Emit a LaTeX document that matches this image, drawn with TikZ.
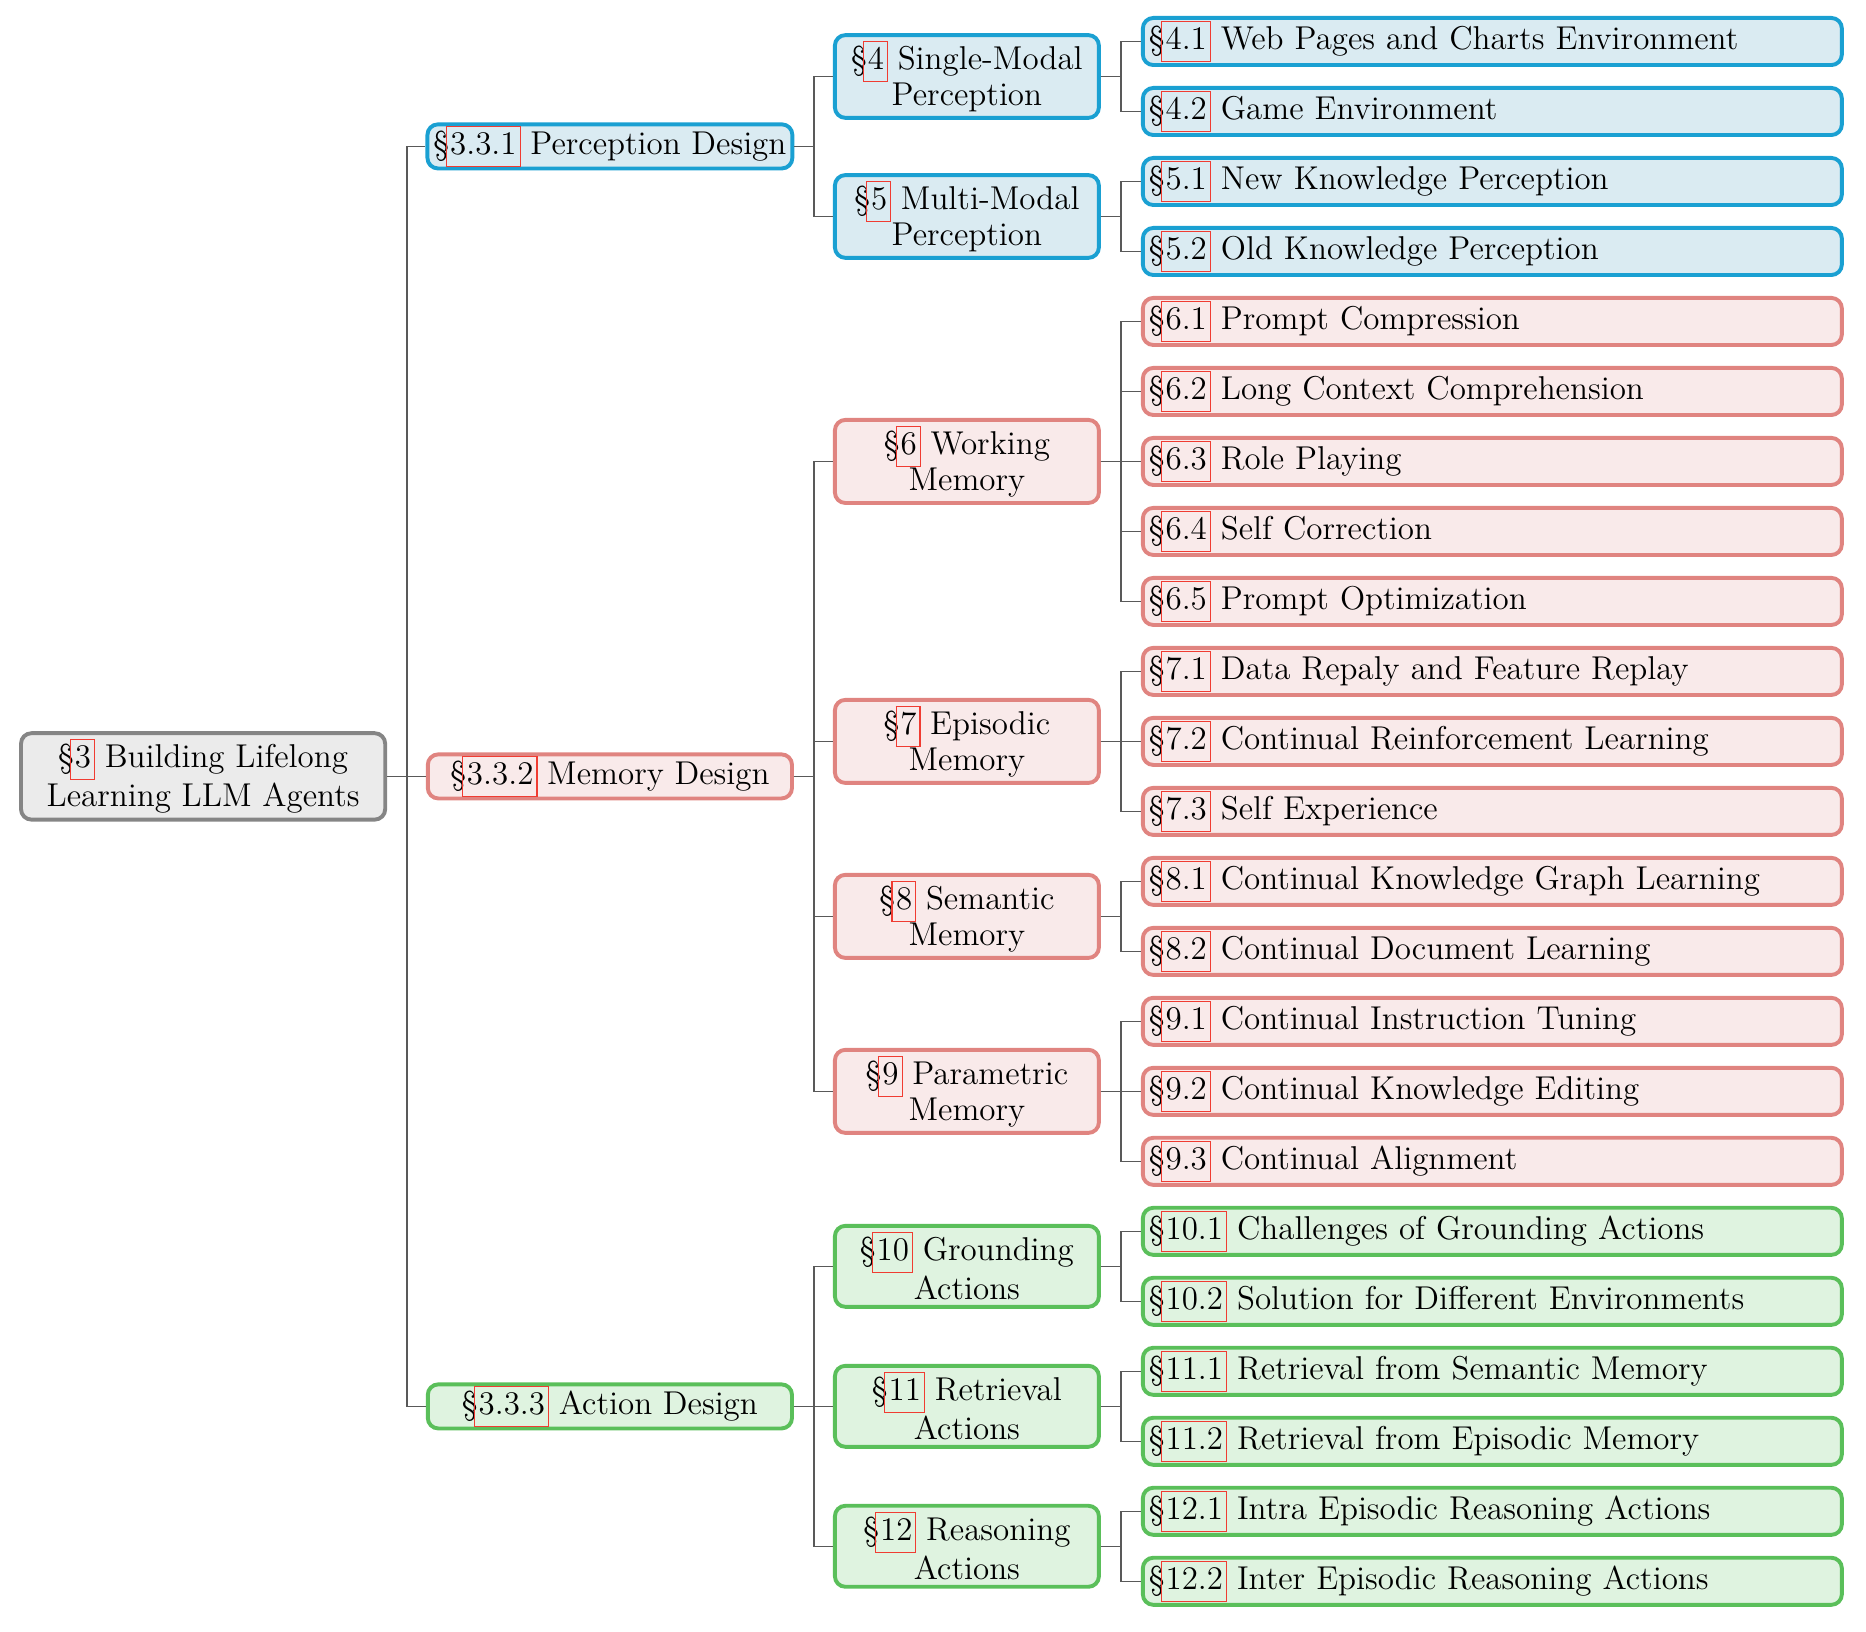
\documentclass[tikz,border=0pt]{standalone}
\usepackage{xcolor}
\usetikzlibrary{positioning,calc}
\definecolor{rootbg}{HTML}{EBEBEB}
\definecolor{rootln}{HTML}{858585}
\definecolor{percbg}{HTML}{DAEBF2}
\definecolor{percln}{HTML}{1AA0D2}
\definecolor{membg}{HTML}{F9EAEA}
\definecolor{memln}{HTML}{E08480}
\definecolor{actbg}{HTML}{DFF3E0}
\definecolor{actln}{HTML}{5ABF5A}
\definecolor{lnkred}{HTML}{F03C32}
\tikzset{
  box/.style={draw, rounded corners=3.5pt, line width=1.3pt, inner sep=2pt},
  rbox/.style={box, fill=rootbg, draw=rootln},
  pbox/.style={box, fill=percbg, draw=percln},
  mbox/.style={box, fill=membg, draw=memln},
  abox/.style={box, fill=actbg, draw=actln},
  link/.style={draw=black!65, line width=0.5pt}}
\newcommand{\lnk}[1]{{\setlength{\fboxsep}{0pt}\setlength{\fboxrule}{0.35pt}%
  \kern-1.2pt\textcolor{lnkred}{\fbox{\kern1.2pt\textcolor{black}{#1}\rule[-3.9pt]{0pt}{13pt}\kern1pt}}\kern-0.35pt}}

\begin{document}
\begin{tikzpicture}[x=1pt, y=-1pt, font=\fontsize{11}{12}\selectfont,
  top/.style={minimum width=121.4pt, minimum height=26pt, align=center},
  sec/.style={minimum width=121.4pt, minimum height=14.4pt, inner ysep=0.5pt, align=center},
  sub/.style={minimum width=88pt, minimum height=27pt, align=center},
  leaf/.style={anchor=west, text width=229pt, minimum height=15.4pt, inner ysep=1pt, align=left}]
\useasboundingbox (0,0) rectangle (622,544);
\coordinate (t1) at (135.7,0);
\coordinate (t2) at (271.3,0);
\coordinate (t3) at (373.7,0);
\node[rbox, top] (root) at (67.7,258.8) {\S\lnk{3} Building Lifelong\\Learning LLM Agents};
\foreach \n/\k/\t/\y/\s in {p/3.3.1/Perception Design/48.8/pbox, m/3.3.2/Memory Design/258.8/mbox, a/3.3.3/Action Design/468.8/abox} {
  \node[\s, sec] (l\n) at (203.3,\y) {\S\lnk{\k} \t};
  \draw[link] (root.east) -- (root.east -| t1) |- (l\n.west);
}
\foreach \n/\a/\b/\k/\s/\p in {4/Single-Modal/Perception/1.5/pbox/lp, 5/Multi-Modal/Perception/3.5/pbox/lp,
  6/Working/Memory/7/mbox/lm, 7/Episodic/Memory/11/mbox/lm, 8/Semantic/Memory/13.5/mbox/lm, 9/Parametric/Memory/16/mbox/lm,
  10/Grounding/Actions/18.5/abox/la, 11/Retrieval/Actions/20.5/abox/la, 12/Reasoning/Actions/22.5/abox/la} {
  \node[\s, sub] (c\n) at (322.3,{13.83+23.33*(\k-1)}) {\S\lnk{\n} \a\\\b};
  \draw[link] (\p.east) -- (\p.east -| t2) |- (c\n.west);
}
\foreach \n/\t/\s/\p [count=\i] in {
  4.1/Web Pages and Charts Environment/pbox/c4, 4.2/Game Environment/pbox/c4,
  5.1/New Knowledge Perception/pbox/c5, 5.2/Old Knowledge Perception/pbox/c5,
  6.1/Prompt Compression/mbox/c6, 6.2/Long Context Comprehension/mbox/c6, 6.3/Role Playing/mbox/c6,
  6.4/Self Correction/mbox/c6, 6.5/Prompt Optimization/mbox/c6,
  7.1/Data Repaly and Feature Replay/mbox/c7, 7.2/Continual Reinforcement Learning/mbox/c7, 7.3/Self Experience/mbox/c7,
  8.1/Continual Knowledge Graph Learning/mbox/c8, 8.2/Continual Document Learning/mbox/c8,
  9.1/Continual Instruction Tuning/mbox/c9, 9.2/Continual Knowledge Editing/mbox/c9, 9.3/Continual Alignment/mbox/c9,
  10.1/Challenges of Grounding Actions/abox/c10, 10.2/Solution for Different Environments/abox/c10,
  11.1/Retrieval from Semantic Memory/abox/c11, 11.2/Retrieval from Episodic Memory/abox/c11,
  12.1/Intra Episodic Reasoning Actions/abox/c12, 12.2/Inter Episodic Reasoning Actions/abox/c12} {
  \node[\s, leaf] (s\i) at (380.3,{13.83+23.33*(\i-1)}) {\S\lnk{\n} \t};
  \draw[link] (\p.east) -- (\p.east -| t3) |- (s\i.west);
}
\end{tikzpicture}
\end{document}
